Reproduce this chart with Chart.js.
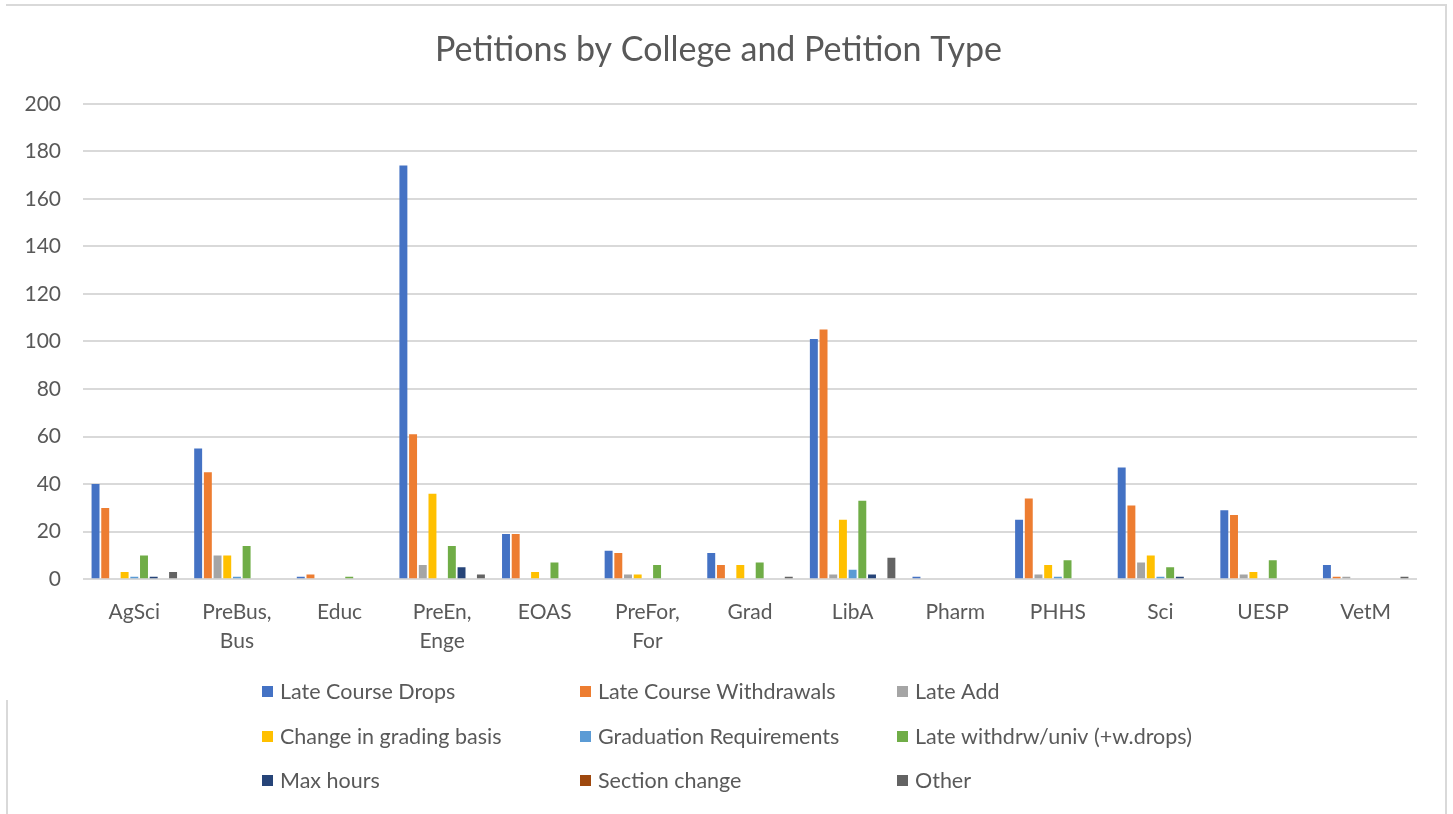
<!DOCTYPE html>
<html>
<head>
<meta charset="utf-8">
<script src="https://cdn.jsdelivr.net/npm/chart.js@4.4.0/dist/chart.umd.min.js"></script>
<style>
    body { margin: 0; background: #fff; }
    #wrap { position: relative; width: 1453px; height: 814px; }
    #frame { position: absolute; left: 6px; top: 4px; width: 1439px; height: 820px;
             border-top: 2px solid #d9d9d9; border-right: 2px solid #d9d9d9; }
    #left-edge { position: absolute; left: 6px; top: 700px; width: 2px; height: 114px; background: #d9d9d9; }
    canvas { position: absolute; left: 0; top: 0; }
</style>
</head>
<body>
<div id="wrap">
    <div id="frame"></div>
    <div id="left-edge"></div>
    <canvas id="petitions-chart" width="1453" height="814"></canvas>
</div>
<script>
const Chart = window.Chart;

//colleges along the x axis
const colleges = ['AgSci', ['PreBus,', 'Bus'], 'Educ', ['PreEn,', 'Enge'], 'EOAS', ['PreFor,', 'For'],
    'Grad', 'LibA', 'Pharm', 'PHHS', 'Sci', 'UESP', 'VetM'];

//one array per petition type
const lateCourseDrops       = [40, 55, 1, 174, 19, 12, 11, 101, 1, 25, 47, 29, 6];
const lateCourseWithdrawals = [30, 45, 2, 61, 19, 11, 6, 105, 0, 34, 31, 27, 1];
const lateAdd               = [0, 10, 0, 6, 0, 2, 0, 2, 0, 2, 7, 2, 1];
const changeGradingBasis    = [3, 10, 0, 36, 3, 2, 6, 25, 0, 6, 10, 3, 0];
const graduationReqs        = [1, 1, 0, 0, 0, 0, 0, 4, 0, 1, 1, 0, 0];
const lateWithdrawUniv      = [10, 14, 1, 14, 7, 6, 7, 33, 0, 8, 5, 8, 0];
const maxHours              = [1, 0, 0, 5, 0, 0, 0, 2, 0, 0, 1, 0, 0];
const sectionChange         = [0, 0, 0, 0, 0, 0, 0, 0, 0, 0, 0, 0, 0];
const otherPetitions        = [3, 0, 0, 2, 0, 0, 1, 9, 0, 0, 0, 0, 1];

const yTicks = [0, 20, 40, 60, 80, 100, 120, 140, 160, 180, 200];

const textColor = '#595959';
const fontFamily = 'Lato, "Open Sans", sans-serif';

function makeSet(label, data, color) {
    return {
        label: label,
        data: data,
        backgroundColor: color,
        borderWidth: 0,
        categoryPercentage: 0.85,
        barPercentage: 0.82
    };
}

//legend laid out in 3 fixed columns, like the office chart
const gridLegend = {
    id: 'gridLegend',
    afterDraw(chart) {
        const ctx = chart.ctx;
        const cols = [262, 580, 897];
        const rows = [692, 737, 781];
        ctx.save();
        ctx.font = '21.5px ' + fontFamily;
        ctx.textBaseline = 'middle';
        chart.data.datasets.forEach((ds, i) => {
            const x = cols[i % 3];
            const y = rows[Math.floor(i / 3)];
            ctx.fillStyle = ds.backgroundColor;
            ctx.fillRect(x, y - 6, 11, 11);
            ctx.fillStyle = textColor;
            ctx.fillText(ds.label, x + 18, y);
        });
        ctx.restore();
    }
};

const canvas = document.getElementById('petitions-chart');

const petitionsChart = new Chart(canvas, {
    type: 'bar',
    data: {
        labels: colleges,
        datasets: [
            makeSet('Late Course Drops', lateCourseDrops, '#4472C4'),
            makeSet('Late Course Withdrawals', lateCourseWithdrawals, '#ED7D31'),
            makeSet('Late Add', lateAdd, '#A5A5A5'),
            makeSet('Change in grading basis', changeGradingBasis, '#FFC000'),
            makeSet('Graduation Requirements', graduationReqs, '#5B9BD5'),
            makeSet('Late withdrw/univ (+w.drops)', lateWithdrawUniv, '#70AD47'),
            makeSet('Max hours', maxHours, '#264478'),
            makeSet('Section change', sectionChange, '#9E480E'),
            makeSet('Other', otherPetitions, '#636363')
        ]
    },
    options: {
        responsive: false,
        animation: false,
        layout: {
            padding: { left: 20, right: 36, top: 0, bottom: 148 }
        },
        plugins: {
            legend: { display: false },
            tooltip: { enabled: false },
            title: {
                display: true,
                text: 'Petitions by College and Petition Type',
                color: textColor,
                font: { family: fontFamily, size: 34, weight: 'normal' },
                padding: { top: 30, bottom: 33 }
            }
        },
        scales: {
            x: {
                grid: { display: false },
                border: { display: false },
                ticks: {
                    color: textColor,
                    font: { family: fontFamily, size: 21, lineHeight: 1.4 },
                    maxRotation: 0,
                    padding: 10
                }
            },
            y: {
                min: 0,
                max: 200,
                afterBuildTicks: function(axis) {
                    axis.ticks = yTicks.map(v => ({ value: v }));
                },
                afterFit: function(axis) {
                    axis.width = 63;
                },
                border: { display: false },
                grid: { color: '#d9d9d9', lineWidth: 2, drawTicks: false },
                ticks: {
                    color: textColor,
                    font: { family: fontFamily, size: 21 },
                    padding: 22
                }
            }
        }
    },
    plugins: [gridLegend]
});
</script>
</body>
</html>
